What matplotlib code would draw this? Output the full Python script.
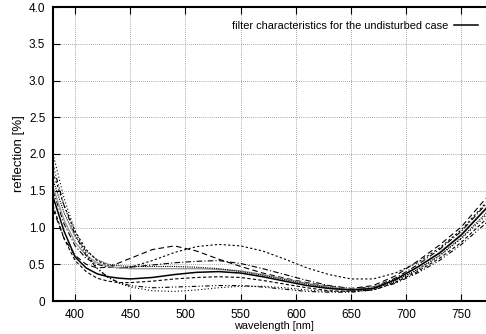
import numpy as np
import matplotlib.pyplot as plt

# -------------------------
# 1. Data
# -------------------------

wavelength = [380, 390, 400, 410, 420, 430, 440, 450, 470, 490, 510, 530,
              550, 570, 590, 610, 630, 650, 670, 690, 710, 730, 750, 770, 780]

# filter characteristics for the undisturbed case
undisturbed = [1.42, 0.95, 0.60, 0.45, 0.37, 0.33, 0.31, 0.30, 0.32, 0.36, 0.39, 0.40,
               0.38, 0.33, 0.27, 0.21, 0.17, 0.15, 0.17, 0.29, 0.46, 0.65, 0.90, 1.22, 1.38]

# disturbed cases
hump_490 = [1.25, 0.85, 0.62, 0.50, 0.45, 0.46, 0.52, 0.58, 0.70, 0.75, 0.68, 0.57,
            0.47, 0.38, 0.31, 0.25, 0.20, 0.17, 0.21, 0.34, 0.54, 0.76, 1.01, 1.36, 1.52]
hump_530 = [1.75, 1.30, 0.95, 0.70, 0.55, 0.48, 0.45, 0.46, 0.55, 0.66, 0.74, 0.77,
            0.75, 0.68, 0.57, 0.45, 0.36, 0.30, 0.30, 0.38, 0.52, 0.72, 0.97, 1.30, 1.46]
mid_dashdot = [1.50, 1.05, 0.75, 0.58, 0.50, 0.46, 0.45, 0.46, 0.49, 0.52, 0.54, 0.55,
               0.51, 0.44, 0.36, 0.28, 0.21, 0.17, 0.19, 0.31, 0.49, 0.70, 0.95, 1.28, 1.44]
grey_flat = [1.55, 1.10, 0.80, 0.62, 0.52, 0.47, 0.45, 0.44, 0.44, 0.44, 0.44, 0.43,
             0.41, 0.36, 0.30, 0.24, 0.19, 0.16, 0.18, 0.29, 0.46, 0.66, 0.91, 1.23, 1.39]
dotted_flat = [1.65, 1.20, 0.88, 0.68, 0.56, 0.50, 0.48, 0.47, 0.47, 0.47, 0.46, 0.44,
               0.40, 0.35, 0.29, 0.23, 0.18, 0.15, 0.17, 0.27, 0.43, 0.62, 0.86, 1.16, 1.31]
dashed_low = [1.30, 0.85, 0.55, 0.40, 0.31, 0.27, 0.25, 0.25, 0.27, 0.30, 0.32, 0.33,
              0.32, 0.28, 0.23, 0.18, 0.14, 0.13, 0.15, 0.25, 0.40, 0.58, 0.80, 1.08, 1.22]
dashdot_low = [1.85, 1.30, 0.90, 0.62, 0.44, 0.32, 0.25, 0.21, 0.18, 0.19, 0.20, 0.21,
               0.21, 0.19, 0.16, 0.13, 0.12, 0.12, 0.15, 0.24, 0.38, 0.55, 0.77, 1.03, 1.16]
dotted_low = [2.00, 1.40, 0.95, 0.65, 0.45, 0.32, 0.24, 0.19, 0.14, 0.13, 0.15, 0.18,
              0.20, 0.20, 0.18, 0.15, 0.13, 0.13, 0.16, 0.26, 0.42, 0.61, 0.85, 1.13, 1.28]

x_ticks = [400, 450, 500, 550, 600, 650, 700, 750]
y_ticks = [0, 0.5, 1.0, 1.5, 2.0, 2.5, 3.0, 3.5, 4.0]
y_tick_labels = ["0", "0.5", "1.0", "1.5", "2.0", "2.5", "3.0", "3.5", "4.0"]

# -------------------------
# 2. Figure
# -------------------------

plt.rcParams['font.family'] = ['Liberation Sans', 'DejaVu Sans']
plt.rcParams['font.size'] = 8

fig = plt.figure(figsize=(4.86, 3.34), dpi=100)
ax = fig.add_axes([53 / 486, 33 / 334, 441.6 / 486, 294 / 334])

ax.plot(wavelength, hump_490, color="black", lw=0.8, ls=(0, (5, 3)))
ax.plot(wavelength, hump_530, color="black", lw=0.8, ls=(0, (2, 2)))
ax.plot(wavelength, mid_dashdot, color="black", lw=0.8, ls=(0, (5, 2, 1, 2)))
ax.plot(wavelength, grey_flat, color="#999999", lw=1.0, ls="-")
ax.plot(wavelength, dotted_flat, color="black", lw=0.8, ls=(0, (1, 1)))
ax.plot(wavelength, dashed_low, color="black", lw=0.8, ls=(0, (3, 2)))
ax.plot(wavelength, dashdot_low, color="black", lw=0.8, ls=(0, (4, 2, 1, 2, 1, 2)))
ax.plot(wavelength, dotted_low, color="black", lw=0.8, ls=(0, (1, 2)))
ax.plot(wavelength, undisturbed, color="black", lw=1.1, ls="-",
        label="filter characteristics for the undisturbed case")

ax.set_xlim(380, 780)
ax.set_ylim(0, 4.0)
ax.set_xticks(x_ticks)
ax.set_yticks(y_ticks)
ax.set_yticklabels(y_tick_labels)

ax.grid(True, color="#555555", ls=(0, (1, 2)), lw=0.5)
ax.tick_params(direction="in", length=5, width=0.8, top=True, right=False,
               labelsize=8.5, pad=5.5)
for side in ["top", "bottom", "left"]:
    ax.spines[side].set_linewidth(1.5)

ax.set_xlabel("wavelength [nm]", fontsize=7.8, labelpad=0)
ax.set_ylabel("reflection [%]", fontsize=9.5, labelpad=3)

leg = ax.legend(loc="upper right", frameon=False, markerfirst=False,
                fontsize=7.9, handlelength=2.2, handletextpad=0.5,
                borderaxespad=0.9, bbox_to_anchor=(0.995, 1.0))

plt.savefig("out.png", dpi=100)
